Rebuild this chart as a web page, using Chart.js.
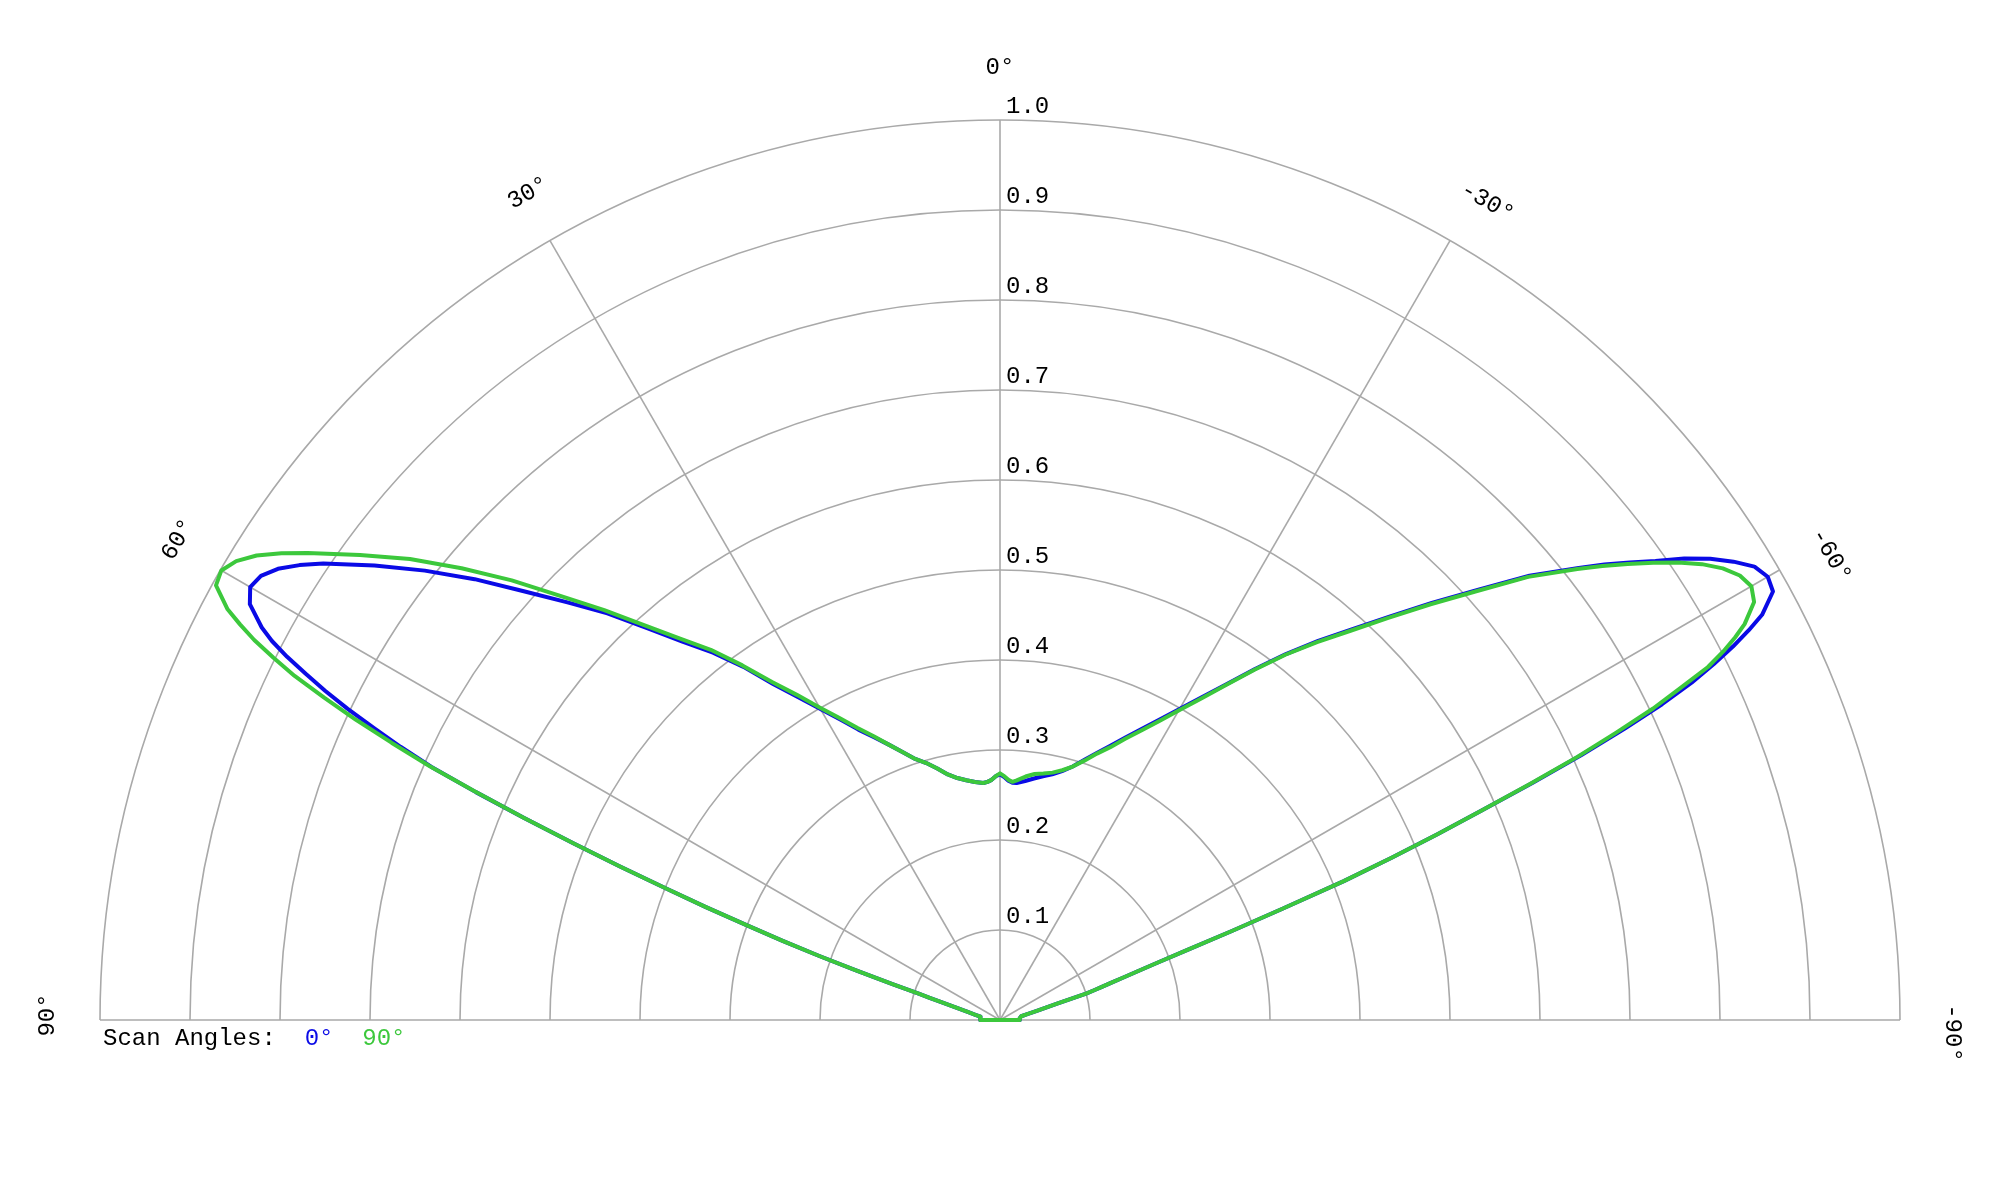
<!DOCTYPE html>
<html>
<head>
<meta charset="utf-8">
<script src="https://cdn.jsdelivr.net/npm/chart.js@4/dist/chart.umd.min.js"></script>
<style>
  html, body { margin: 0; padding: 0; background: #ffffff; }
  canvas { display: block; }
</style>
</head>
<body>
<canvas id="c" width="2000" height="1200"></canvas>
<script>
// Angles in degrees (positive = left side of the plot)
const angleDeg = [
  -90,-85,-80,-78,-76,-74,-73,
  -72.5,-72,-71.5,-71,-70.5,-70,-69.5,-69,-68.5,-68,-67.5,-67,-66.5,-66,-65.5,-65,-64.5,-64,-63.5,-63,-62.5,-62,
  -61,-60,-59,-58,-57,-56,-55,-54,-53,-52,
  -50,-48,-46,-44,-42,-40,-38,-36,-34,-32,-30,-28,-26,-24,-22,-20,-18,-16,-14,-12,-10,-8,-6,-4,
  -3,-2,-1,
  0,
  1,2,3,4,5,6,
  8,10,12,14,16,18,20,22,24,26,28,30,32,34,36,38,40,42,44,46,48,50,52,54,56,
  57,58,59,60,61,
  62,62.5,63,63.5,64,64.5,65,65.5,66,66.5,67,67.5,68,68.5,69,69.5,70,70.5,71,71.5,72,72.5,
  73,74,76,78,80,85,90
];

// Scan angle 0° (blue)
const scan0 = [
  0.022,0.022,0.024,0.031,0.043,0.066,0.100,
  0.109,0.119,0.130,0.145,0.163,0.186,0.221,0.276,0.338,0.412,0.471,0.528,0.583,0.648,0.710,0.766,0.815,0.855,0.886,0.914,0.938,0.959,
  0.982,0.985,0.978,0.961,0.941,0.917,0.889,0.865,0.841,0.816,
  0.768,0.714,0.667,0.623,0.584,0.550,0.516,0.482,0.450,0.423,0.399,0.378,0.360,0.344,0.329,0.316,0.304,0.293,0.285,0.279,0.275,0.271,0.267,0.264,
  0.264,0.266,0.270,
  0.273,
  0.271,0.267,0.265,0.264,0.265,0.266,
  0.269,0.273,0.279,0.288,0.297,0.305,0.317,0.330,0.344,0.359,0.378,0.399,0.423,0.450,0.485,0.518,0.549,0.586,0.628,0.668,0.712,0.762,0.811,0.859,0.907,
  0.928,0.946,0.958,0.962,0.953,
  0.929,0.912,0.889,0.862,0.834,0.803,0.767,0.732,0.692,0.635,0.575,0.512,0.456,0.400,0.350,0.300,0.257,0.213,0.170,0.126,0.095,0.082,
  0.069,0.053,0.037,0.028,0.022,0.022,0.022
];

// Scan angle 90° (green)
const scan90 = [
  0.022,0.022,0.024,0.031,0.043,0.066,0.100,
  0.109,0.119,0.130,0.145,0.163,0.186,0.221,0.276,0.338,0.412,0.471,0.528,0.583,0.644,0.705,0.755,0.804,0.841,0.879,0.902,0.921,0.937,
  0.958,0.964,0.959,0.947,0.930,0.909,0.886,0.862,0.838,0.814,
  0.766,0.712,0.665,0.621,0.582,0.548,0.515,0.481,0.449,0.421,0.397,0.376,0.358,0.342,0.327,0.315,0.303,0.293,0.286,0.281,0.278,0.276,0.272,0.267,
  0.265,0.267,0.271,
  0.274,
  0.271,0.267,0.265,0.264,0.265,0.266,
  0.269,0.273,0.279,0.288,0.297,0.305,0.317,0.330,0.345,0.361,0.380,0.401,0.426,0.453,0.487,0.522,0.553,0.590,0.633,0.678,0.730,0.781,0.832,0.879,0.928,
  0.952,0.974,0.990,0.999,0.996,
  0.972,0.952,0.930,0.902,0.872,0.832,0.790,0.743,0.694,0.635,0.575,0.512,0.456,0.400,0.350,0.300,0.257,0.213,0.170,0.126,0.095,0.082,
  0.069,0.053,0.037,0.028,0.022,0.022,0.022
];

const ringTicks = [0.1,0.2,0.3,0.4,0.5,0.6,0.7,0.8,0.9,1.0];
const ringLabels = ['0.1','0.2','0.3','0.4','0.5','0.6','0.7','0.8','0.9','1.0'];
const angleTicks = [90,60,30,0,-30,-60,-90];
const angleLabels = ['90°','60°','30°','0°','-30°','-60°','-90°'];
const legendTitle = 'Scan Angles:';
const seriesNames = ['0°','90°'];
const seriesColors = ['#0a0ae6','#3cc83c'];

const FONT = '24px "Courier New", "Nimbus Mono PS", "FreeMono", "Liberation Mono", monospace';
const GRID = '#a9a9a9';
const rad = d => d * Math.PI / 180;
// polar -> cartesian, closing the outline back to its first point
const toXY = vals => {
  const pts = angleDeg.map((a, i) => ({ x: -vals[i] * Math.sin(rad(a)), y: vals[i] * Math.cos(rad(a)) }));
  pts.push(pts[0]);
  return pts;
};

const polarGrid = {
  id: 'polarGrid',
  beforeDatasetsDraw(chart) {
    const ctx = chart.ctx, xs = chart.scales.x, ys = chart.scales.y;
    const cx = xs.getPixelForValue(0), cy = ys.getPixelForValue(0);
    const R = xs.getPixelForValue(1) - cx;
    ctx.save();
    ctx.strokeStyle = GRID;
    ctx.lineWidth = 1.6;
    ringTicks.forEach(v => {
      const r = xs.getPixelForValue(v) - cx;
      ctx.beginPath();
      ctx.arc(cx, cy, r, Math.PI, 2 * Math.PI);
      ctx.stroke();
    });
    angleTicks.forEach(a => {
      ctx.beginPath();
      ctx.moveTo(cx, cy);
      ctx.lineTo(cx - R * Math.sin(rad(a)), cy - R * Math.cos(rad(a)));
      ctx.stroke();
    });
    ctx.restore();
  },
  afterDraw(chart) {
    const ctx = chart.ctx, xs = chart.scales.x, ys = chart.scales.y;
    const cx = xs.getPixelForValue(0), cy = ys.getPixelForValue(0);
    const R = xs.getPixelForValue(1) - cx;
    ctx.save();
    ctx.font = FONT;
    ctx.fillStyle = '#000';
    ctx.textAlign = 'left';
    ctx.textBaseline = 'alphabetic';
    ringTicks.forEach((v, i) => {
      const r = ys.getPixelForValue(0) - ys.getPixelForValue(v);
      ctx.fillText(ringLabels[i], cx + 6, cy - r - 7);
    });
    // angle labels
    const LR = R + 52;
    angleTicks.forEach((a, i) => {
      const x = cx - LR * Math.sin(rad(a));
      const y = cy - LR * Math.cos(rad(a));
      ctx.save();
      ctx.translate(x, y);
      ctx.rotate(-rad(a));
      ctx.textAlign = 'center';
      ctx.textBaseline = 'middle';
      const off = a < 0 ? 13 : (a === 0 ? 0 : 5);
      ctx.fillText(angleLabels[i], off, 0);
      ctx.restore();
    });
    // legend
    let lx = 103, ly = cy + 25;
    ctx.textAlign = 'left';
    ctx.textBaseline = 'alphabetic';
    ctx.fillStyle = '#000';
    const t0 = legendTitle + '  ';
    ctx.fillText(t0, lx, ly);
    lx += ctx.measureText(t0).width;
    seriesNames.forEach((n, i) => {
      ctx.fillStyle = seriesColors[i];
      ctx.fillText(n, lx, ly);
      lx += ctx.measureText(n + '  ').width;
    });
    ctx.restore();
  }
};

new Chart(document.getElementById('c'), {
  type: 'scatter',
  data: {
    datasets: [
      { label: seriesNames[0], data: toXY(scan0), borderColor: seriesColors[0], backgroundColor: seriesColors[0],
        showLine: true, borderWidth: 4, pointRadius: 0, tension: 0, clip: false, order: 1 },
      { label: seriesNames[1], data: toXY(scan90), borderColor: seriesColors[1], backgroundColor: seriesColors[1],
        showLine: true, borderWidth: 4, pointRadius: 0, tension: 0, clip: false, order: 0 }
    ]
  },
  options: {
    responsive: false,
    animation: false,
    devicePixelRatio: 1,
    layout: { padding: { left: 100, right: 100, top: 120, bottom: 180 } },
    scales: {
      x: { type: 'linear', min: -1, max: 1, display: false },
      y: { type: 'linear', min: 0, max: 1, display: false }
    },
    plugins: { legend: { display: false }, tooltip: { enabled: false } },
    elements: { line: { borderJoinStyle: 'round', borderCapStyle: 'round' } }
  },
  plugins: [polarGrid]
});
</script>
</body>
</html>
